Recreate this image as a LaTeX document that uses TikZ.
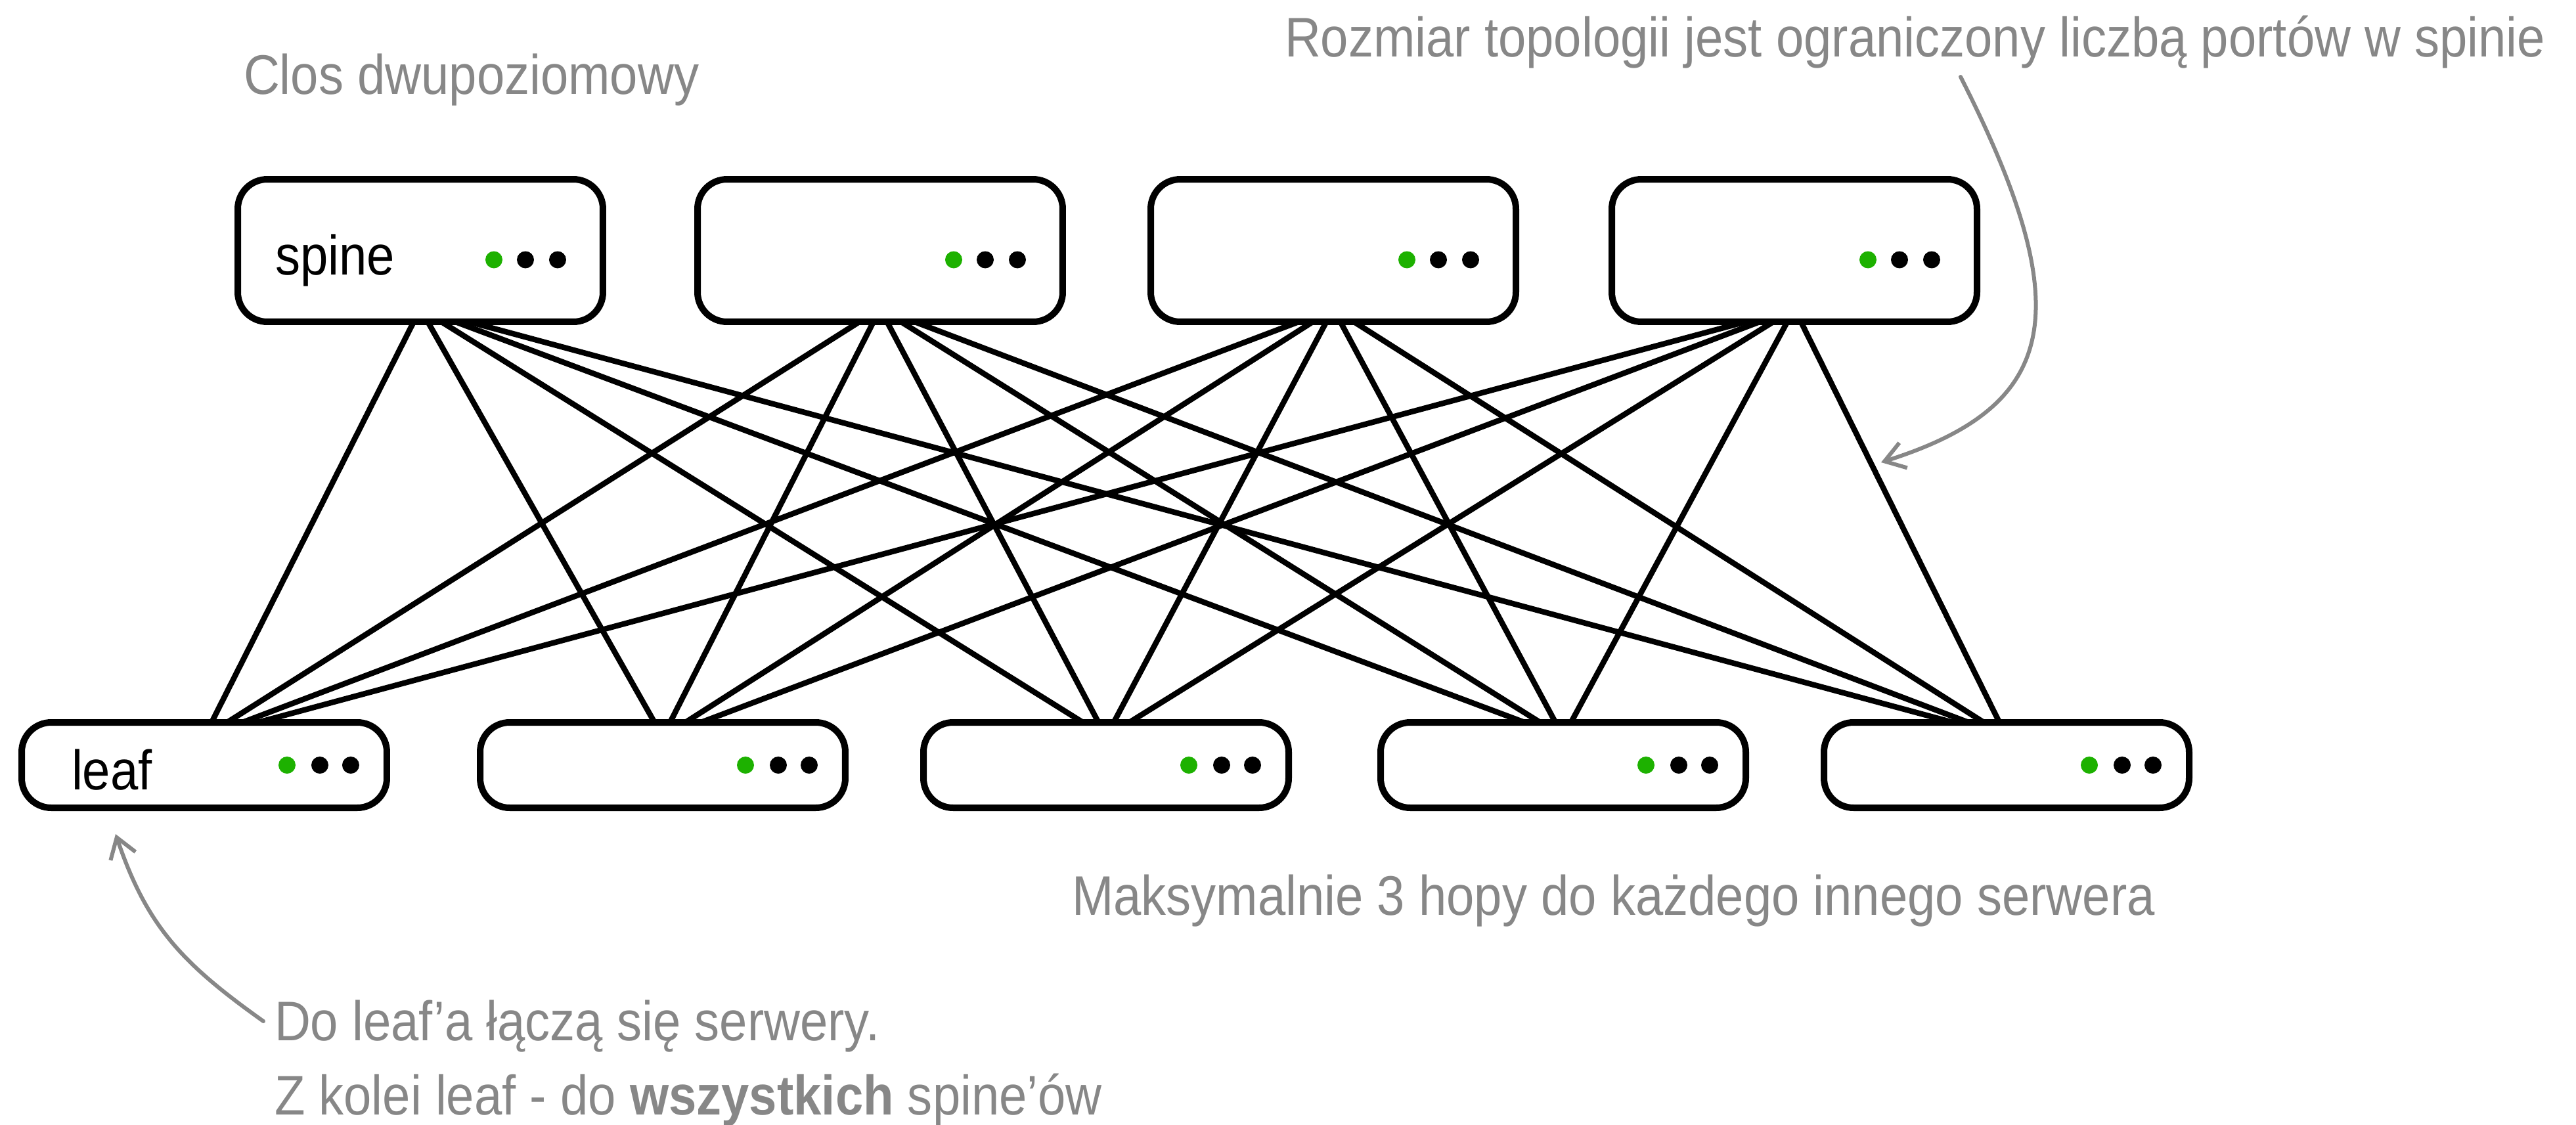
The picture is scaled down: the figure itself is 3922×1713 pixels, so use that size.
\documentclass[tikz,border=0pt]{standalone}
\usepackage{fontspec}
\setmainfont{Liberation Sans}[FakeStretch=0.895]
\usetikzlibrary{arrows.meta,backgrounds}
\definecolor{notegray}{RGB}{135,135,135}
\definecolor{portgreen}{RGB}{29,177,0}
\begin{document}
\begin{tikzpicture}[x=0.1pt,y=-0.1pt,
  switchbox/.style={draw, line width=1pt, rounded corners=4.5pt, fill=white,
    minimum width=55.6pt, inner sep=0pt},
  spinebox/.style={switchbox, minimum height=21.7pt},
  leafbox/.style={switchbox, minimum height=13pt},
  lbl/.style={inner sep=0pt, anchor=base west, font=\fontsize{8.5pt}{10.2pt}\selectfont},
  note/.style={lbl, text=notegray},
  link/.style={line width=0.85pt},
  callout/.style={draw=notegray, line width=0.6pt, line cap=round,
    -{Straight Barb[length=3pt,width=4pt,line width=0.6pt]}},
  port/.style={fill=portgreen},
  portoff/.style={fill=black}]
\useasboundingbox (0,0) rectangle (3922,1713);

% spine layer
\node[spinebox] (s1) at (640,381.5) {};
\node[spinebox] (s2) at (1340,381.5) {};
\node[spinebox] (s3) at (2030,381.5) {};
\node[spinebox] (s4) at (2732,381.5) {};

% leaf layer
\node[leafbox] (l1) at (311,1165) {};
\node[leafbox] (l2) at (1009,1165) {};
\node[leafbox] (l3) at (1684,1165) {};
\node[leafbox] (l4) at (2380,1165) {};
\node[leafbox] (l5) at (3055,1165) {};

% port indicators
\foreach \n in {s1,s2,s3,s4}{
  \fill[port]    ([xshift=11.2pt,yshift=-1.4pt]\n.center) circle (1.3pt);
  \fill[portoff] ([xshift=16.0pt,yshift=-1.4pt]\n.center) circle (1.3pt);
  \fill[portoff] ([xshift=20.9pt,yshift=-1.4pt]\n.center) circle (1.3pt);
}
\foreach \n in {l1,l2,l3,l4,l5}{
  \fill[port]    ([xshift=12.6pt]\n.center) circle (1.3pt);
  \fill[portoff] ([xshift=17.6pt]\n.center) circle (1.3pt);
  \fill[portoff] ([xshift=22.3pt]\n.center) circle (1.3pt);
}

% box labels
\node[lbl] (s1t) at ([xshift=-22.3pt,yshift=-3.65pt]s1.center) {spine};
\node[lbl] (l1t) at ([xshift=-20.4pt,yshift=-3.7pt]l1.center) {leaf};

% full mesh between the two layers
\begin{scope}[on background layer]
  \foreach \s in {1,...,4}
    \foreach \l in {1,...,5}
      \draw[link] ([yshift=-8.85pt]s\s.center) -- ([yshift=4.3pt]l\l.center);
\end{scope}

% annotations
\node[note] (title) at (369,144) {Clos dwupoziomowy};
\node[note] (limit) at (1954,87) {Rozmiar topologii jest ograniczony liczbą portów w spinie};
\node[note] (hops) at (1630,1393) {Maksymalnie 3 hopy do każdego innego serwera};
\node[note] (srv1) at (416,1584) {Do leaf’a łączą się serwery.};
\node[note] (srv2) at (416,1697) {Z kolei leaf - do \textbf{wszystkich} spine’ów};

\coordinate (limitfrom) at (2985,117);
\coordinate (limitto) at (2864,704);
\draw[callout] (limitfrom) .. controls (3170,480) and (3130,620) .. (limitto);

\coordinate (srvfrom) at (401,1555);
\coordinate (srvto) at (176,1270);
\draw[callout] (srvfrom) .. controls (279,1468) and (224,1412) .. (srvto);
\end{tikzpicture}
\end{document}
